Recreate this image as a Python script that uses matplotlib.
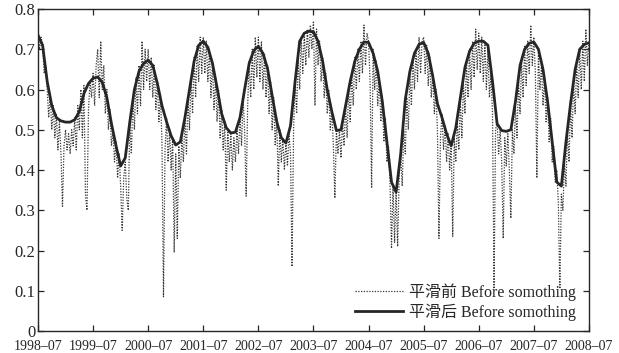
import numpy as np
import matplotlib
matplotlib.use("Agg")
import matplotlib.pyplot as plt

# ---------------- data ----------------
start_year = 1998.5          # 1998-07
raw_per_year = 36            # ~10-day samples
smooth_per_year = 12         # monthly samples

raw_1998 = [0.74, 0.70, 0.73, 0.71, 0.64, 0.66, 0.60, 0.53, 0.59, 0.50, 0.56, 0.48,
            0.54, 0.45, 0.52, 0.44, 0.31, 0.46, 0.50, 0.45, 0.49, 0.44, 0.50, 0.46,
            0.53, 0.45, 0.56, 0.50, 0.60, 0.48, 0.61, 0.34, 0.30, 0.55, 0.62, 0.58]
raw_1999 = [0.64, 0.56, 0.66, 0.70, 0.58, 0.72, 0.60, 0.66, 0.54, 0.60, 0.50, 0.55,
            0.46, 0.50, 0.42, 0.47, 0.38, 0.44, 0.36, 0.25, 0.38, 0.42, 0.33, 0.30,
            0.52, 0.44, 0.58, 0.50, 0.63, 0.54, 0.66, 0.56, 0.72, 0.60, 0.70, 0.62]
raw_2000 = [0.70, 0.60, 0.68, 0.58, 0.66, 0.55, 0.62, 0.52, 0.59, 0.47, 0.085, 0.45,
            0.53, 0.42, 0.50, 0.40, 0.48, 0.195, 0.44, 0.23, 0.46, 0.38, 0.48, 0.42,
            0.53, 0.44, 0.58, 0.50, 0.63, 0.54, 0.68, 0.58, 0.71, 0.62, 0.73, 0.64]
raw_2001 = [0.73, 0.64, 0.72, 0.62, 0.70, 0.58, 0.67, 0.55, 0.63, 0.52, 0.60, 0.48,
            0.55, 0.45, 0.52, 0.35, 0.50, 0.42, 0.49, 0.40, 0.48, 0.42, 0.50, 0.44,
            0.53, 0.46, 0.58, 0.50, 0.335, 0.56, 0.67, 0.58, 0.70, 0.60, 0.73, 0.63]
raw_2002 = [0.73, 0.62, 0.72, 0.60, 0.69, 0.58, 0.66, 0.54, 0.62, 0.50, 0.58, 0.46,
            0.53, 0.36, 0.50, 0.42, 0.48, 0.40, 0.47, 0.41, 0.49, 0.44, 0.16, 0.50,
            0.62, 0.54, 0.68, 0.60, 0.73, 0.64, 0.74, 0.66, 0.75, 0.68, 0.76, 0.70]
raw_2003 = [0.77, 0.56, 0.75, 0.66, 0.72, 0.62, 0.68, 0.58, 0.64, 0.54, 0.60, 0.50,
            0.55, 0.46, 0.33, 0.50, 0.44, 0.50, 0.43, 0.52, 0.46, 0.56, 0.48, 0.61,
            0.52, 0.64, 0.56, 0.68, 0.60, 0.70, 0.62, 0.72, 0.64, 0.76, 0.66, 0.74]
raw_2004 = [0.72, 0.62, 0.355, 0.70, 0.60, 0.67, 0.56, 0.63, 0.52, 0.58, 0.47, 0.53,
            0.42, 0.46, 0.37, 0.205, 0.36, 0.22, 0.35, 0.21, 0.38, 0.44, 0.36, 0.50,
            0.44, 0.58, 0.50, 0.64, 0.56, 0.68, 0.60, 0.70, 0.62, 0.73, 0.64, 0.72]
raw_2005 = [0.73, 0.64, 0.71, 0.61, 0.68, 0.58, 0.64, 0.54, 0.60, 0.50, 0.23, 0.48,
            0.54, 0.45, 0.51, 0.42, 0.49, 0.40, 0.47, 0.235, 0.48, 0.42, 0.52, 0.45,
            0.57, 0.48, 0.62, 0.54, 0.67, 0.58, 0.70, 0.60, 0.72, 0.63, 0.75, 0.65]
raw_2006 = [0.74, 0.64, 0.73, 0.62, 0.72, 0.60, 0.70, 0.58, 0.64, 0.54, 0.105, 0.50,
            0.52, 0.44, 0.50, 0.42, 0.23, 0.48, 0.41, 0.49, 0.40, 0.28, 0.50, 0.44,
            0.56, 0.48, 0.62, 0.54, 0.67, 0.58, 0.71, 0.61, 0.72, 0.64, 0.76, 0.66]
raw_2007 = [0.73, 0.64, 0.38, 0.69, 0.60, 0.66, 0.56, 0.63, 0.52, 0.58, 0.47, 0.53,
            0.42, 0.46, 0.37, 0.40, 0.32, 0.105, 0.34, 0.30, 0.42, 0.36, 0.50, 0.42,
            0.56, 0.48, 0.62, 0.54, 0.66, 0.58, 0.70, 0.60, 0.72, 0.62, 0.75, 0.66]
raw_end = [0.72]

smooth_1998 = [0.735, 0.71, 0.62, 0.56, 0.53, 0.522, 0.519, 0.519, 0.525, 0.545, 0.59, 0.615]
smooth_1999 = [0.628, 0.631, 0.618, 0.58, 0.515, 0.46, 0.41, 0.43, 0.52, 0.60, 0.645, 0.665]
smooth_2000 = [0.673, 0.66, 0.615, 0.56, 0.52, 0.485, 0.462, 0.47, 0.53, 0.60, 0.67, 0.71]
smooth_2001 = [0.72, 0.705, 0.665, 0.605, 0.54, 0.505, 0.492, 0.494, 0.53, 0.60, 0.665, 0.697]
smooth_2002 = [0.707, 0.69, 0.652, 0.585, 0.52, 0.48, 0.467, 0.51, 0.62, 0.72, 0.74, 0.745]
smooth_2003 = [0.743, 0.72, 0.67, 0.60, 0.545, 0.498, 0.50, 0.56, 0.62, 0.67, 0.70, 0.718]
smooth_2004 = [0.717, 0.69, 0.645, 0.57, 0.47, 0.37, 0.345, 0.44, 0.575, 0.645, 0.69, 0.712]
smooth_2005 = [0.717, 0.69, 0.632, 0.565, 0.53, 0.49, 0.46, 0.505, 0.58, 0.655, 0.695, 0.715]
smooth_2006 = [0.72, 0.72, 0.71, 0.62, 0.515, 0.498, 0.496, 0.50, 0.57, 0.66, 0.70, 0.715]
smooth_2007 = [0.718, 0.70, 0.65, 0.57, 0.47, 0.37, 0.36, 0.47, 0.565, 0.65, 0.70, 0.712]
smooth_end = [0.716]

tick_labels = ["1998–07", "1999–07", "2000–07", "2001–07", "2002–07", "2003–07",
               "2004–07", "2005–07", "2006–07", "2007–07", "2008–07"]
y_ticks = [0, 0.1, 0.2, 0.3, 0.4, 0.5, 0.6, 0.7, 0.8]
label_before = "平滑前 Before somothing"
label_after = "平滑后 Before somothing"

raw = np.array(raw_1998 + raw_1999 + raw_2000 + raw_2001 + raw_2002 + raw_2003 +
               raw_2004 + raw_2005 + raw_2006 + raw_2007 + raw_end)
smooth = np.array(smooth_1998 + smooth_1999 + smooth_2000 + smooth_2001 + smooth_2002 +
                  smooth_2003 + smooth_2004 + smooth_2005 + smooth_2006 + smooth_2007 +
                  smooth_end)
x_raw = start_year + np.arange(len(raw)) / raw_per_year
x_smooth = start_year + np.arange(len(smooth)) / smooth_per_year
x_ticks = start_year + np.arange(len(tick_labels))

# ---------------- plot ----------------
plt.rcParams['font.family'] = ['Liberation Serif', 'Noto Sans CJK SC']
fig = plt.figure(figsize=(6.19, 3.53), dpi=100)
ax = fig.add_axes([0.0614, 0.0623, 0.890, 0.9122])

ink = '#262626'
ax.plot(x_raw, raw, linestyle=(0, (1.0, 1.2)), color='#383838', linewidth=0.9,
        label=label_before)
ax.plot(x_smooth, smooth, linestyle='-', color=ink, linewidth=2.0,
        solid_joinstyle='round', label=label_after)

ax.set_xlim(x_ticks[0], x_ticks[-1])
ax.set_ylim(0, 0.8)
ax.set_xticks(x_ticks)
ax.set_xticklabels(tick_labels, fontsize=10)
ax.set_yticks(y_ticks)
ax.set_yticklabels(["0" if v == 0 else f"{v:.1f}" for v in y_ticks], fontsize=12)
ax.tick_params(direction='in', top=True, right=True, length=4, width=0.9,
               colors=ink, pad=2)
ax.tick_params(axis='x', pad=6.5)
for s in ax.spines.values():
    s.set_linewidth(1.0)
    s.set_color(ink)

leg = ax.legend(loc='lower right', frameon=False, fontsize=11.5, handlelength=3.0,
                handletextpad=0.4, borderaxespad=0.25, labelspacing=0.15,
                bbox_to_anchor=(0.995, 0.0))
for t in leg.get_texts():
    t.set_color(ink)

fig.savefig("out.png", dpi=100)
